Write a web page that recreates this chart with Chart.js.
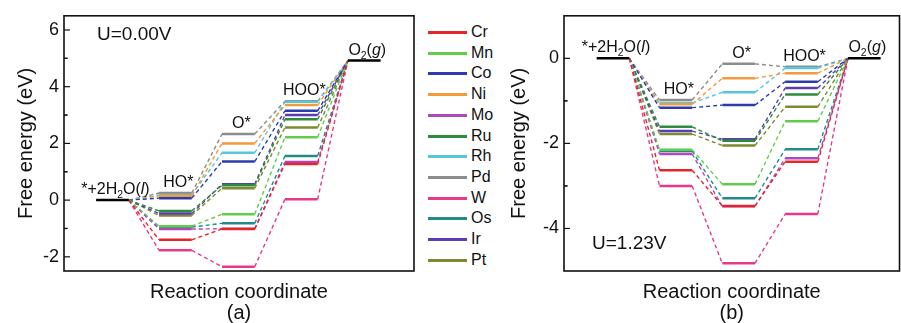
<!DOCTYPE html>
<html>
<head>
<meta charset="utf-8">
<script src="https://cdn.jsdelivr.net/npm/chart.js@4.4.1/dist/chart.umd.min.js"></script>
<style>
    body { margin: 0; background: #fff; width: 901px; height: 323px; position: relative; overflow: hidden;
           font-family: "Liberation Sans", Arial, sans-serif; }
    #wrapA { position: absolute; left: 0; top: 0; width: 420px; height: 323px; }
    #wrapB { position: absolute; left: 500px; top: 0; width: 401px; height: 323px; }
    #legend { position: absolute; left: 428px; top: 0; }
    .ln { position: absolute; left: 0; width: 39px; height: 2.5px; }
    .tx { position: absolute; left: 43px; font-size: 16px; color: #111; line-height: 16px; }
</style>
</head>
<body>
<div id="wrapA"><canvas id="chartA" width="420" height="323"></canvas></div>
<div id="legend"></div>
<div id="wrapB"><canvas id="chartB" width="401" height="323"></canvas></div>
<script>
// metals and their colours (legend order)
const metals = ['Cr', 'Mn', 'Co', 'Ni', 'Mo', 'Ru', 'Rh', 'Pd', 'W', 'Os', 'Ir', 'Pt'];
const metalColors = ['#e4262b', '#62cc4c', '#2b3dae', '#f39a3c', '#ae48bf', '#2e8a3c',
                     '#55c6dc', '#8c8c8c', '#e6398a', '#1f8c8a', '#5a3db0', '#7e8a2e'];

// reaction states (label pieces: sub = subscript, it = italic)
const stateLabels = [
    [{t: '*+2H'}, {t: '2', sub: true}, {t: 'O('}, {t: 'l', it: true}, {t: ')'}],
    [{t: 'HO*'}],
    [{t: 'O*'}],
    [{t: 'HOO*'}],
    [{t: 'O'}, {t: '2', sub: true}, {t: '('}, {t: 'g', it: true}, {t: ')'}]
];

// (a) U = 0.00 V, free energies in eV
const startA = 0;
const endA = 4.92;
const hoA  = [-1.40, -0.92, 0.07, 0.15, -1.02, -0.38, 0.18, 0.25, -1.77, -0.95, -0.47, -0.54];
const oA   = [-1.02, -0.50, 1.36, 2.00, -1.01, 0.52, 1.67, 2.33, -2.35, -0.82, 0.56, 0.42];
const hooA = [1.27, 2.22, 3.15, 3.35, 1.34, 2.85, 3.47, 3.49, 0.03, 1.56, 3.00, 2.56];
const yTicksA = [-2, 0, 2, 4, 6];

// (b) U = 1.23 V
const startB = 0;
const endB = 0;
const hoB  = [-2.63, -2.15, -1.16, -1.08, -2.25, -1.61, -1.05, -0.98, -3.00, -2.18, -1.71, -1.78];
const oB   = [-3.47, -2.96, -1.10, -0.47, -3.48, -1.94, -0.80, -0.13, -4.82, -3.29, -1.90, -2.05];
const hooB = [-2.43, -1.48, -0.55, -0.35, -2.35, -0.85, -0.23, -0.20, -3.66, -2.14, -0.70, -1.14];
const yTicksB = [-4, -2, 0];

const FONT = '"Liberation Sans", Arial, sans-serif';
const LEVEL_W = 0.52;   // width of a level in x units (one state = 1 unit)

// legend, rows on whole pixels so every line renders the same
const legendEl = document.getElementById('legend');
metals.forEach((m, i) => {
    const cy = Math.round(32 + i * 20.7);
    const ln = document.createElement('span');
    ln.className = 'ln';
    ln.style.top = (cy - 1) + 'px';
    ln.style.background = metalColors[i];
    const tx = document.createElement('span');
    tx.className = 'tx';
    tx.style.top = (cy - 8) + 'px';
    tx.textContent = m;
    legendEl.appendChild(ln);
    legendEl.appendChild(tx);
});

function drawRich(ctx, parts, cx, base, size) {
    const fontFor = p => (p.it ? 'italic ' : '') + (p.sub ? size * 0.65 : size) + 'px ' + FONT;
    let w = 0;
    parts.forEach(p => { ctx.font = fontFor(p); w += ctx.measureText(p.t).width; });
    let x = cx - w / 2;
    ctx.textAlign = 'left';
    ctx.textBaseline = 'alphabetic';
    parts.forEach(p => {
        ctx.font = fontFor(p);
        ctx.fillText(p.t, x, base + (p.sub ? size * 0.25 : 0));
        x += ctx.measureText(p.t).width;
    });
}

// frame, inward ticks and all in-plot texts
const diagramDecor = {
    id: 'diagramDecor',
    afterDraw(chart, args, opts) {
        const {ctx, chartArea: a, scales: {x, y}} = chart;
        ctx.save();
        ctx.strokeStyle = '#111';
        ctx.lineWidth = 1.6;
        ctx.strokeRect(a.left, a.top, a.right - a.left, a.bottom - a.top);

        // major and minor ticks on the left axis, pointing in
        ctx.lineWidth = 1.2;
        const ticks = opts.ticks;
        const step = ticks[1] - ticks[0];
        ticks.forEach(v => {
            [[v, 6], [v + step / 2, 3.5], [v - step / 2, 3.5]].forEach(([tv, len]) => {
                const py = y.getPixelForValue(tv);
                if (py <= a.top + 1 || py >= a.bottom - 1) return;
                ctx.beginPath();
                ctx.moveTo(a.left, py);
                ctx.lineTo(a.left + len, py);
                ctx.stroke();
            });
        });

        ctx.fillStyle = '#111';
        opts.tops.forEach((top, i) => {
            const cx = x.getPixelForValue(i + LEVEL_W / 2) + 3;
            const base = y.getPixelForValue(top) - 6;
            drawRich(ctx, stateLabels[i], cx, base, 16);
        });

        ctx.font = '19px ' + FONT;
        ctx.textAlign = 'left';
        ctx.textBaseline = 'alphabetic';
        ctx.fillText(opts.uText, a.left + opts.uPos[0], opts.uPos[1]);

        ctx.font = '20px ' + FONT;
        ctx.textAlign = 'center';
        ctx.textBaseline = 'middle';
        ctx.fillText(opts.panel, (a.left + a.right) / 2, 313);
        ctx.restore();
    }
};

function buildDatasets(start, end, ho, o, hoo) {
    const sets = [];
    // black reference levels (start and O2)
    sets.push({
        data: [{x: 0, y: start}, {x: LEVEL_W, y: start}, {x: 4, y: end}, {x: 4 + LEVEL_W, y: end}],
        borderColor: '#000',
        borderWidth: 2.5,
        segment: {
            borderColor: c => c.p0DataIndex === 1 ? 'rgba(0,0,0,0)' : '#000'
        }
    });
    metals.forEach((m, i) => {
        const vals = [start, ho[i], o[i], hoo[i], end];
        const pts = [];
        vals.forEach((v, k) => { pts.push({x: k, y: v}, {x: k + LEVEL_W, y: v}); });
        sets.push({
            label: m,
            data: pts.slice(1, -1),
            borderColor: metalColors[i],
            borderWidth: 2.5,
            segment: {
                borderDash: c => c.p0DataIndex % 2 === 0 ? [4, 3] : undefined,
                borderWidth: c => c.p0DataIndex % 2 === 0 ? 1.4 : 2.5
            }
        });
    });
    return sets;
}

function stateTops(start, end, ho, o, hoo) {
    return [start, Math.max(...ho), Math.max(...o), Math.max(...hoo), end];
}

function createDiagram(canvasId, cfg) {
    new Chart(document.getElementById(canvasId), {
        type: 'line',
        data: { datasets: buildDatasets(cfg.start, cfg.end, cfg.ho, cfg.o, cfg.hoo) },
        options: {
            responsive: false,
            animation: false,
            events: [],
            elements: { point: { radius: 0 }, line: { tension: 0 } },
            layout: { padding: { left: 0, top: 12, right: cfg.padRight, bottom: 0 } },
            scales: {
                x: {
                    type: 'linear',
                    min: cfg.xMin,
                    max: cfg.xMax,
                    grid: { display: false, drawTicks: false },
                    border: { display: false },
                    ticks: { display: false },
                    title: {
                        display: true,
                        text: 'Reaction coordinate',
                        color: '#111',
                        font: { family: FONT, size: 20 },
                        padding: { top: 0, bottom: 19 }
                    },
                    afterFit: s => { s.height = 52; }
                },
                y: {
                    min: cfg.yMin,
                    max: cfg.yMax,
                    grid: { display: false, drawTicks: false },
                    border: { display: false },
                    afterBuildTicks: s => { s.ticks = cfg.yTicks.map(v => ({ value: v })); },
                    ticks: { color: '#111', padding: 5, font: { family: FONT, size: 18 } },
                    title: {
                        display: true,
                        text: 'Free energy (eV)',
                        color: '#111',
                        font: { family: FONT, size: 20 },
                        padding: { top: cfg.titlePad, bottom: 0 }
                    },
                    afterFit: s => { s.width = 64; }
                }
            },
            plugins: {
                legend: { display: false },
                tooltip: { enabled: false },
                diagramDecor: {
                    ticks: cfg.yTicks,
                    tops: stateTops(cfg.start, cfg.end, cfg.ho, cfg.o, cfg.hoo),
                    uText: cfg.uText,
                    uPos: cfg.uPos,
                    panel: cfg.panel
                }
            }
        },
        plugins: [diagramDecor]
    });
}

createDiagram('chartA', {
    start: startA, end: endA, ho: hoA, o: oA, hoo: hooA,
    xMin: -0.51, xMax: 5.05, yMin: -2.5, yMax: 6.5, yTicks: yTicksA,
    padRight: 6, titlePad: 14, uText: 'U=0.00V', uPos: [33, 40], panel: '(a)'
});

createDiagram('chartB', {
    start: startB, end: endB, ho: hoB, o: oB, hoo: hooB,
    xMin: -0.52, xMax: 4.82, yMin: -5, yMax: 1, yTicks: yTicksB,
    padRight: 1.5, titlePad: 7, uText: 'U=1.23V', uPos: [28, 249], panel: '(b)'
});
</script>
</body>
</html>
